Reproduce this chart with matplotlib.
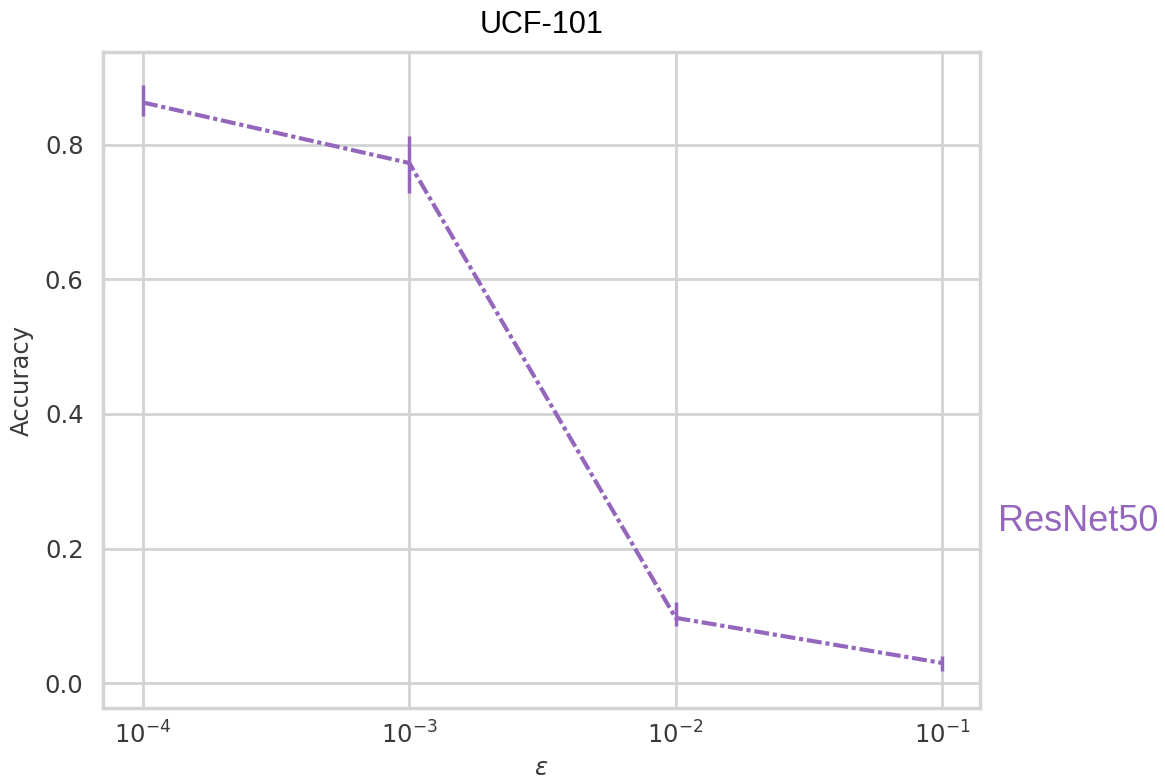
import matplotlib
matplotlib.use("Agg")
import matplotlib.pyplot as plt
import seaborn as sns
import numpy as np

eps = [1e-4, 1e-3, 1e-2, 1e-1]
acc = [0.863, 0.773, 0.097, 0.030]
err_low = [0.020, 0.045, 0.012, 0.012]
err_high = [0.026, 0.040, 0.023, 0.010]
model_name = "ResNet50"
title = "UCF-101"
color = "#9467bd"

sns.set_style("whitegrid")
plt.rcParams['font.family'] = ['DejaVu Sans']

fig = plt.figure(figsize=(11.65, 7.82), dpi=100)
ax = fig.add_axes([103/1165, 1 - 708/782, (980-103)/1165, (708-52)/782])

ax.errorbar(eps, acc, yerr=[err_low, err_high], color=color, lw=3,
            linestyle=(0, (3.6, 0.9, 1.0, 0.9)), elinewidth=2.5, capsize=0)
ax.set_xscale('log')
ax.set_xlim(10**-4.15, 10**-0.857)
ax.set_ylim(-0.037, 0.938)
ax.set_yticks([0.0, 0.2, 0.4, 0.6, 0.8])
ax.set_xticks(eps)
ax.minorticks_off()
ax.tick_params(axis='both', labelsize=17.5, colors='#3a3a3a', length=0)
ax.tick_params(axis='y', pad=14)
ax.tick_params(axis='x', pad=10)
ax.set_xlabel(r'$\epsilon$', fontsize=17.5, color='#3a3a3a', labelpad=5)
ax.set_ylabel('Accuracy', fontsize=17.5, color='#3a3a3a', labelpad=8)
ax.set_title(title, fontsize=22, family='Liberation Sans', color='black', pad=14)
ax.grid(True, color='#d3d3d3', lw=2)
for s in ax.spines.values():
    s.set_color('#d3d3d3')
    s.set_linewidth(2.5)
ax.text(1.02, 0.284, model_name, transform=ax.transAxes, color=color,
        fontsize=26, family='Liberation Sans', va='center', ha='left')

fig.savefig("out.png", dpi=100)
